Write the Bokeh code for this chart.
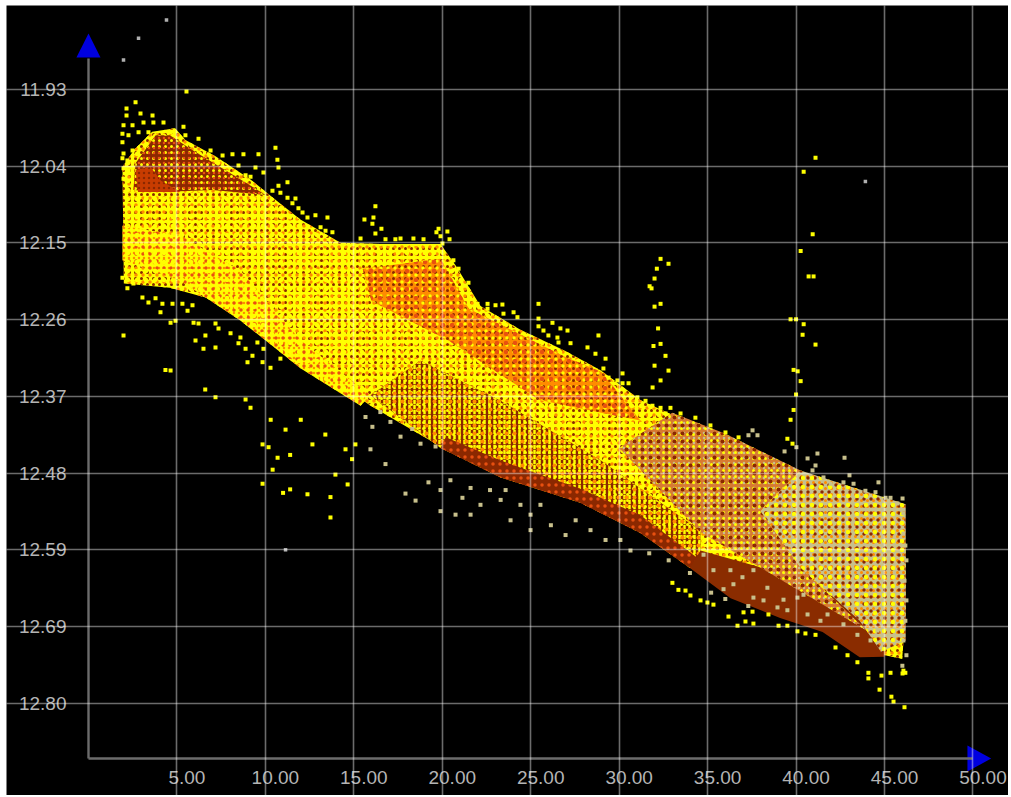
from bokeh.plotting import figure
from bokeh.models import LinearAxis, Grid, FixedTicker, Range1d, ColumnDataSource, LabelSet
from bokeh.core.properties import value
from bokeh.embed import file_html
from bokeh.resources import INLINE

x_ticks = [5, 10, 15, 20, 25, 30, 35, 40, 45, 50]
x_labels = ["5.00", "10.00", "15.00", "20.00", "25.00", "30.00", "35.00", "40.00", "45.00", "50.00"]
y_ticks = [11.93, 12.0392, 12.1484, 12.2576, 12.3668, 12.476, 12.5852, 12.6944, 12.8036]

# envelope of the dense part of the point cloud
env_x = [1.92, 2.6, 3.6, 4.9, 5.48, 7.18, 9.16, 10.57, 11.98, 14.25, 16.5, 19.9, 20.75, 22.16, 24.42, 26.96, 28.97, 31.2, 34.03, 36.3, 38.55, 40.8, 43.64, 46.1, 46.2, 46.2, 46.0, 45.0, 43.6, 41.5, 39.1, 36.3, 34.0, 31.2, 27.8, 23.3, 19.9, 15.95, 13.1, 10.3, 7.5, 4.6, 2.0]
env_y = [12.04, 12.015, 11.99, 11.985, 12.002, 12.025, 12.058, 12.087, 12.115, 12.148, 12.15, 12.15, 12.18, 12.238, 12.272, 12.302, 12.33, 12.372, 12.405, 12.44, 12.46, 12.48, 12.51, 12.53, 12.588, 12.674, 12.74, 12.735, 12.736, 12.700, 12.680, 12.652, 12.609, 12.559, 12.516, 12.480, 12.438, 12.380, 12.331, 12.275, 12.232, 12.212, 12.206]
# tinted zones inside the cloud
dark_x = [2.54, 2.66, 3.8, 4.6, 5.8, 8.6, 10.0, 7.0, 4.1]
dark_y = [12.073, 12.035, 11.995, 11.995, 12.015, 12.058, 12.08, 12.073, 12.076]
ember_x = [2.66, 3.5, 4.1, 5.2, 2.8]
ember_y = [12.045, 12.04, 12.06, 12.076, 12.076]
streak_x = [1.92, 5.2, 8.6, 12.0, 15.94, 15.38, 12.0, 8.6, 5.2, 1.92]
streak_y = [12.124, 12.138, 12.188, 12.287, 12.365, 12.380, 12.327, 12.259, 12.202, 12.173]
orange_x = [15.5, 19.9, 21.5, 26.9, 29.0, 31.2, 29.0, 25.5, 20.4, 16.0]
orange_y = [12.185, 12.171, 12.242, 12.31, 12.332, 12.401, 12.39, 12.372, 12.288, 12.231]
mid_x = [15.94, 18.77, 23.3, 28.97, 34.6, 34.6, 34.0, 31.2, 27.8, 23.3, 19.9]
mid_y = [12.365, 12.316, 12.373, 12.458, 12.558, 12.60, 12.611, 12.561, 12.518, 12.482, 12.440]
rim_x = [19.9, 23.3, 27.8, 31.2, 34.0, 34.6, 31.2, 27.8, 23.3, 20.2]
rim_y = [12.440, 12.482, 12.518, 12.561, 12.611, 12.600, 12.536, 12.498, 12.458, 12.425]
solid_x = [34.6, 39.7, 44.8, 45.0, 43.6, 41.5, 39.1, 36.3, 34.0]
solid_y = [12.586, 12.622, 12.686, 12.737, 12.738, 12.702, 12.682, 12.654, 12.611]
blend_x = [33.0, 36.0, 40.25, 38.0, 40.25, 44.0, 34.6, 30.0]
blend_y = [12.39, 12.42, 12.472, 12.53, 12.61, 12.70, 12.56, 12.44]
khaki_x = [40.25, 46.2, 46.2, 44.8, 43.6, 40.25, 38.0]
khaki_y = [12.472, 12.52, 12.714, 12.73, 12.686, 12.61, 12.53]

# scattered points
grey_x = [4.41, 2.83, 1.98, 43.92, 11.14]
grey_y = [11.831, 11.857, 11.888, 12.061, 12.585]

far_x = [5.54, 32.34, 32.79, 32.13, 32.0, 31.72, 31.83, 32.34, 32.0, 32.2, 31.94, 32.34, 32.62, 32.0, 31.89, 32.34, 32.79,
         41.1, 40.43, 40.94, 40.26, 40.71, 40.99, 39.69, 40.0, 40.43, 40.37, 41.1, 39.86, 40.09, 40.26, 40.0, 39.86, 39.69,
         4.64, 4.35, 6.6, 7.18, 8.88, 9.16, 9.84, 10.18, 9.84, 10.41, 10.69, 11.4, 11.0, 11.4, 12.38, 13.68, 13.68, 14.65, 13.96, 12.66, 13.39, 14.53, 15.09, 14.9, 11.14, 12.0, 10.3]
far_y = [11.933, 12.171, 12.178, 12.185, 12.199, 12.210, 12.213, 12.235, 12.239, 12.270, 12.295, 12.292, 12.309, 12.323, 12.354, 12.344, 12.330,
         12.027, 12.047, 12.136, 12.160, 12.196, 12.196, 12.257, 12.257, 12.264, 12.279, 12.293, 12.329, 12.331, 12.345, 12.364, 12.386, 12.400,
         12.330, 12.329, 12.357, 12.368, 12.371, 12.383, 12.435, 12.439, 12.491, 12.471, 12.454, 12.450, 12.504, 12.499, 12.506, 12.510, 12.539, 12.492, 12.478, 12.435, 12.421, 12.442, 12.435, 12.456, 12.414, 12.400, 12.400]

edge_x = [2.15, 2.66, 2.94, 3.62, 2.15, 4.24, 1.98, 2.49, 3.11, 3.67, 4.64, 5.37, 5.48, 6.22, 1.92, 1.92, 2.26, 2.83, 3.39, 6.90, 7.58, 8.14, 8.76, 9.61, 10.57, 10.68, 10.74, 9.44, 8.48, 9.89, 8.88, 9.16, 11.25, 10.74, 10.40, 10.85, 11.25, 11.70, 11.53, 11.87, 12.10, 12.83, 13.51, 12.38, 13.12, 13.79, 13.40, 1.98, 1.98, 2.26, 1.92, 1.98, 2.20, 2.49,
          16.22, 15.60, 16.11, 16.05, 16.56, 16.22, 15.38, 16.79, 17.35, 17.64, 18.37, 18.94, 19.79, 20.29, 19.67, 19.90, 20.41, 20.01, 20.63, 20.92, 21.48, 21.31, 21.99, 22.56, 23.01, 23.40, 22.56, 23.46, 24.03, 24.25, 25.44, 25.44, 25.44, 26.23, 26.68, 27.08, 25.72, 26.00, 26.51, 26.57, 28.83, 27.25, 28.21, 28.66, 29.23, 29.11, 29.40, 29.90, 30.19, 30.19, 30.53, 31.03, 31.49, 31.88, 32.62, 32.90, 32.34, 33.47, 34.31, 35.16, 36.01, 36.75, 39.51, 39.80,
          46.07, 43.47, 42.91, 42.23, 41.10, 40.53, 40.08, 39.51, 39.01, 38.44, 37.59, 37.14, 36.69, 36.18, 37.54, 37.03, 35.33, 34.99, 34.60, 34.03, 33.75, 33.35, 33.01, 44.72, 45.39, 45.51, 46.13, 44.09, 44.09, 44.83, 45.34, 46.02, 46.18,
          1.98, 1.92, 2.20, 2.54, 3.05, 3.79, 3.39, 4.18, 4.07, 4.64, 4.92, 4.75, 5.31, 5.60, 5.88, 5.94, 6.22, 7.18, 7.35, 6.61, 6.05, 6.50, 7.18, 8.03, 8.59, 8.48, 8.88, 9.55, 9.89, 9.27, 8.99, 9.84, 10.29, 10.85]
edge_y = [11.957, 11.948, 11.964, 11.967, 11.967, 11.977, 11.981, 11.981, 11.977, 11.977, 11.991, 11.983, 11.995, 12.000, 11.993, 12.005, 11.995, 11.991, 11.991, 12.017, 12.024, 12.022, 12.022, 12.022, 12.013, 12.030, 12.041, 12.041, 12.038, 12.048, 12.052, 12.054, 12.062, 12.067, 12.074, 12.077, 12.084, 12.085, 12.092, 12.099, 12.105, 12.109, 12.112, 12.112, 12.126, 12.133, 12.131, 12.021, 12.042, 12.045, 12.028, 12.057, 12.031, 12.017,
          12.096, 12.115, 12.112, 12.121, 12.128, 12.135, 12.142, 12.143, 12.143, 12.142, 12.142, 12.143, 12.128, 12.132, 12.133, 12.139, 12.143, 12.149, 12.173, 12.185, 12.205, 12.209, 12.235, 12.235, 12.237, 12.236, 12.242, 12.249, 12.247, 12.254, 12.235, 12.256, 12.267, 12.262, 12.270, 12.273, 12.273, 12.280, 12.283, 12.290, 12.280, 12.291, 12.297, 12.306, 12.313, 12.327, 12.340, 12.344, 12.334, 12.348, 12.348, 12.368, 12.373, 12.380, 12.391, 12.383, 12.383, 12.391, 12.397, 12.408, 12.418, 12.425, 12.427, 12.434,
          12.757, 12.745, 12.735, 12.724, 12.706, 12.704, 12.701, 12.693, 12.693, 12.677, 12.690, 12.687, 12.693, 12.680, 12.673, 12.674, 12.663, 12.660, 12.657, 12.650, 12.643, 12.642, 12.632, 12.784, 12.794, 12.801, 12.809, 12.760, 12.768, 12.764, 12.760, 12.761, 12.760,
          12.280, 12.198, 12.213, 12.206, 12.226, 12.227, 12.233, 12.235, 12.247, 12.262, 12.259, 12.235, 12.235, 12.245, 12.237, 12.262, 12.263, 12.263, 12.270, 12.280, 12.287, 12.299, 12.297, 12.277, 12.283, 12.291, 12.299, 12.290, 12.299, 12.309, 12.318, 12.318, 12.326, 12.313]

kh_x = [15.66, 16.05, 16.5, 17.07, 17.64, 18.3, 18.77, 19.62, 15.94, 16.79, 17.92, 18.49, 19.22, 19.9, 20.46, 21.14, 21.6, 22.16, 22.7, 23.3, 23.86, 24.42, 24.99, 25.55, 26.14, 26.97, 27.54, 28.38, 29.23, 30.07, 30.64, 24.99, 23.58, 19.9, 20.75, 21.6, 31.7, 32.8, 34.0, 35.2, 36.0, 37.3,
        37.54, 37.31, 37.82, 40.02, 39.35, 40.65, 41.21, 42.74, 41.10, 40.93, 43.02, 44.66, 41.55, 41.95, 42.68, 43.25, 43.92, 44.49, 45.06, 46.02, 45.34, 45.73, 46.07, 46.07, 46.18, 46.24, 46.13, 46.24, 46.18, 46.07, 46.24, 46.01,
        35.90, 36.46, 36.97, 37.59, 38.38, 37.59, 38.16, 38.95, 39.51, 40.08, 40.65, 41.38, 41.78, 42.68, 43.47, 44.21, 44.60, 40.42, 39.29, 35.33, 36.29, 34.77]
kh_y = [12.396, 12.410, 12.389, 12.403, 12.424, 12.413, 12.434, 12.438, 12.442, 12.463, 12.505, 12.515, 12.489, 12.500, 12.486, 12.511, 12.497, 12.521, 12.500, 12.514, 12.543, 12.521, 12.535, 12.521, 12.550, 12.564, 12.543, 12.557, 12.571, 12.571, 12.586, 12.557, 12.500, 12.530, 12.535, 12.535, 12.590, 12.600, 12.618, 12.646, 12.655, 12.665,
        12.415, 12.422, 12.422, 12.439, 12.445, 12.455, 12.448, 12.454, 12.465, 12.472, 12.479, 12.489, 12.482, 12.491, 12.489, 12.491, 12.501, 12.503, 12.511, 12.512, 12.511, 12.519, 12.533, 12.562, 12.579, 12.600, 12.629, 12.657, 12.686, 12.714, 12.735, 12.750,
        12.641, 12.634, 12.624, 12.614, 12.639, 12.653, 12.657, 12.667, 12.671, 12.653, 12.677, 12.686, 12.677, 12.691, 12.706, 12.714, 12.700, 12.649, 12.656, 12.614, 12.614, 12.592]

arrow_up_x = [-0.68, 0.0, 0.68]
arrow_up_y = [11.8845, 11.8503, 11.8845]
arrow_right_x = [49.69, 51.03, 49.69]
arrow_right_y = [12.8635, 12.882, 12.9005]

YELLOW = "#ffff00"
DARK = "#8b2800"
ORANGE = "#ff8c00"
KHAKI = "#c8c08c"
RED = "#e85010"

p = figure(width=1002, height=790, output_backend="svg", toolbar_location=None,
           x_axis_type=None, y_axis_type=None, min_border=0, margin=(5, 3, 2, 6),
           x_range=Range1d(-4.635, 52.01), y_range=Range1d(12.9346, 11.8105),
           background_fill_color="black", border_fill_color="black", outline_line_color=None)
p.grid.visible = False


def zone(xs, ys, base, *layers):
    p.patch(xs, ys, fill_color=base, line_color=None)
    for pattern, colour, scale, weight in layers:
        p.patch(xs, ys, fill_alpha=0, line_color=None, hatch_pattern=pattern,
                hatch_color=colour, hatch_scale=scale, hatch_weight=weight)


zone(env_x, env_y, YELLOW, ("dot", DARK, 6, 1), ("dot", ORANGE, 7, 1), ("dot", YELLOW, 9, 1))
zone(streak_x, streak_y, YELLOW, ("dot", ORANGE, 5, 1), ("dot", RED, 7, 1), ("dot", YELLOW, 9, 1))
zone(orange_x, orange_y, ORANGE, ("dot", DARK, 6, 1), ("dot", YELLOW, 7, 1), ("dot", RED, 9, 1))
zone(mid_x, mid_y, DARK, ("vertical_dash", YELLOW, 5, 2.5), ("dot", YELLOW, 6, 1), ("dot", ORANGE, 8, 1))
zone(rim_x, rim_y, DARK, ("dot", RED, 7, 1))
zone(solid_x, solid_y, "#8a2c00")
zone(dark_x, dark_y, DARK, ("dot", YELLOW, 6, 1), ("dot", RED, 5, 1))
zone(ember_x, ember_y, "#c83c00", ("dot", DARK, 5, 1))
zone(blend_x, blend_y, "#d87a30", ("dot", KHAKI, 5, 1), ("dot", YELLOW, 6, 1), ("dot", DARK, 8, 1))
zone(khaki_x, khaki_y, KHAKI, ("dot", ORANGE, 6, 1), ("dot", DARK, 7, 1), ("dot", YELLOW, 9, 1))

p.scatter(far_x, far_y, size=4, marker="square", color=YELLOW, line_color=None)
p.scatter(edge_x, edge_y, size=4, marker="square", color=YELLOW, line_color=None)
p.scatter(kh_x, kh_y, size=4, marker="square", color=KHAKI, line_color=None)
p.scatter(grey_x, grey_y, size=3.5, marker="square", color="#b0b0b0", line_color=None)

for dim, ticks, bounds in ((0, x_ticks, (11.8859, 12.882)), (1, y_ticks, (-0.45, 49.6))):
    p.add_layout(Grid(dimension=dim, ticker=FixedTicker(ticks=ticks), bounds=bounds, level="overlay",
                      grid_line_color="white", grid_line_alpha=0.42, grid_line_width=1.6))

xaxis = LinearAxis(fixed_location=12.882, ticker=FixedTicker(ticks=[]), axis_line_color="#6c6c6c", axis_line_width=2.4,
                   major_label_text_color=None)
xaxis.bounds = (0, 50)
p.add_layout(xaxis, "below")
yaxis = LinearAxis(fixed_location=0, ticker=FixedTicker(ticks=y_ticks), axis_line_color="#6c6c6c", axis_line_width=2.4,
                   major_tick_line_color=None, minor_tick_line_color=None,
                   major_label_text_color="#b4b4b4", major_label_text_font="Liberation Sans",
                   major_label_text_font_size="19px", major_label_standoff=16,
                   major_label_overrides={t: f"{t:.2f}" for t in y_ticks})
yaxis.bounds = (11.8859, 12.882)
p.add_layout(yaxis, "left")

src = ColumnDataSource(dict(x=x_ticks, text=x_labels, y=[12.882] * len(x_ticks)))
p.add_layout(LabelSet(source=src, x="x", y="y", text="text", x_offset=10, y_offset=-19,
                      text_align="center", text_baseline="middle", text_color="#b4b4b4",
                      text_font=value("Liberation Sans"), text_font_size="19px"))

p.patch(arrow_up_x, arrow_up_y, color="#0000e0", line_color=None)
p.patch(arrow_right_x, arrow_right_y, color="#0000e0", line_color=None)

open("out.html", "w").write(file_html(p, INLINE))
